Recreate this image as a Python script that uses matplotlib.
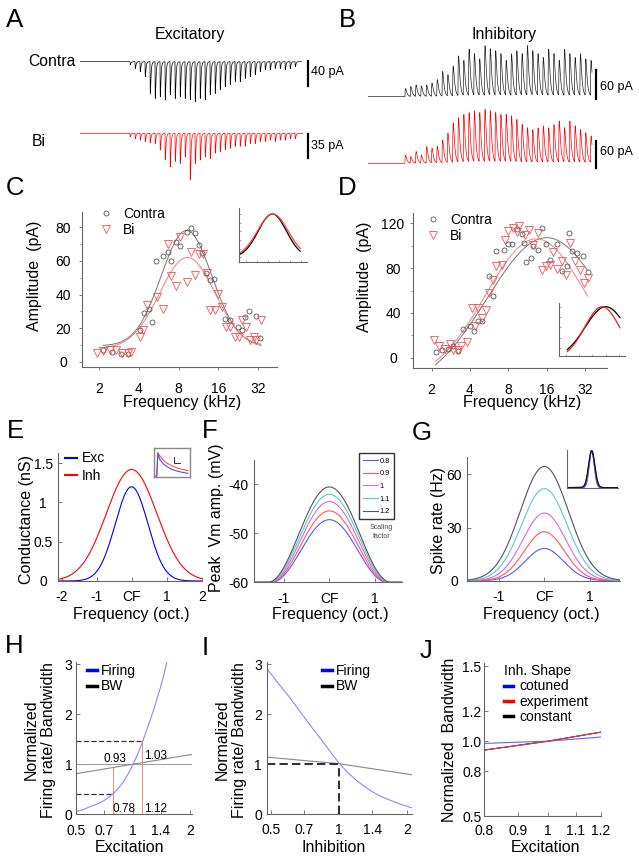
import numpy as np
import matplotlib
matplotlib.use('Agg')
import matplotlib.pyplot as plt
from matplotlib.lines import Line2D

plt.rcParams['font.family'] = ['Liberation Sans', 'DejaVu Sans']
plt.rcParams['axes.linewidth'] = 0.8

# ---------------- data ----------------
# A: excitatory traces, peak amplitude (pA) of each tone-evoked response
exc_contra_amp = [5, 11, 16, 24, 51, 59, 56, 61, 53, 59, 56, 59, 61, 64, 59, 61, 53, 51,
                  45, 40, 37, 32, 32, 27, 24, 21, 16, 13, 13, 11, 11, 13, 11, 8]
exc_bi_amp = [5, 8, 10, 12, 14, 15, 24, 39, 49, 41, 44, 34, 68, 44, 39, 34, 37, 29,
              27, 24, 22, 19, 19, 19, 15, 15, 12, 12, 10, 12, 10, 10, 8, 8]
# B: inhibitory traces
inh_contra_amp = [17, 21, 24, 22, 24, 28, 35, 52, 45, 63, 84, 74, 98, 88, 77, 105, 98, 94,
                  88, 74, 88, 94, 88, 105, 94, 88, 80, 98, 88, 74, 98, 88, 80, 88, 77, 74]
inh_bi_amp = [18, 15, 26, 18, 37, 33, 37, 51, 66, 88, 99, 106, 110, 114, 110, 117, 114, 110,
              106, 106, 103, 95, 84, 77, 73, 77, 81, 77, 84, 92, 77, 92, 81, 73, 66, 59]

# C: excitatory tuning (frequency kHz, amplitude pA)
c_contra_f = [2.15, 2.5, 2.9, 3.3, 4.08, 4.37, 4.74, 4.99, 5.36, 6.12, 6.61, 7.0, 7.6, 8.2,
              9.2, 9.9, 10.6, 11.4, 12.1, 13.0, 13.9, 14.9, 18.0, 19.5, 22.4, 24.2, 25.7,
              27.4, 31.1, 33.3]
c_contra_a = [7, 6, 5, 5, 18.8, 29.2, 31.6, 23.7, 59.7, 62.8, 65.2, 59.7, 71.1, 68.6,
              77.1, 79.4, 76.5, 69.6, 64.6, 52.8, 48.8, 49.4, 25.7, 24.7, 20.8, 18.8, 26.7,
              30.0, 27.3, 14.4]
c_bi_f = [1.94, 2.15, 2.4, 2.7, 2.96, 3.3, 3.5, 4.08, 4.3, 4.6, 5.5, 6.1, 6.6, 7.0, 7.6,
          8.2, 9.3, 9.9, 10.6, 11.4, 12.2, 13.2, 13.9, 15.0, 15.9, 17.0, 18.2, 19.5, 21.3,
          23.0, 24.4, 25.9, 27.9, 30.0, 31.1, 33.6]
c_bi_a = [5.3, 6.5, 7.3, 7.3, 5.5, 5.5, 5.9, 14.8, 18.8, 33.6, 38.5, 31.6, 70.2, 50.8, 45,
          74.1, 47.4, 65.2, 51.4, 64.2, 64.2, 52.8, 30.6, 30.6, 40.5, 32.6, 20.8, 20.8, 14.8,
          14.8, 25.1, 20.8, 12.8, 14.8, 12.8, 24.7]
# Gaussian fit parameters (baseline, amplitude, centre log2 kHz, width oct.)
c_fit_contra = (9.5, 68.5, 3.2, 0.64)
c_fit_bi = (8.0, 54.0, 3.22, 0.70)

# D: inhibitory tuning
d_contra_f = [2.16, 2.4, 2.7, 2.96, 3.2, 3.54, 4.0, 4.3, 4.6, 5.0, 5.68, 6.1, 6.47, 7.4,
              7.96, 8.6, 9.3, 10.2, 10.6, 11.1, 12.0, 12.6, 13.8, 14.8, 15.9, 17.0, 19.4,
              21.0, 23.1, 24.2, 25.4, 27.9, 31.1, 33.6]
d_contra_a = [5, 6.8, 8, 10.4, 5.9, 25.8, 28, 23.7, 32.6, 32.6, 73.2, 55.4, 95.4, 96.3,
              101.6, 101.6, 114.7, 110.5, 102.2, 85, 88.9, 99.3, 96.3, 115.6, 101.3, 87.4,
              101.6, 77, 82.1, 111, 94.8, 93.3, 90.4, 76.1]
d_bi_f = [2.1, 2.3, 2.55, 2.79, 2.96, 3.23, 3.43, 3.77, 4.12, 4.37, 4.64, 5.0, 5.4, 5.68,
          6.1, 6.47, 7.1, 7.6, 8.0, 8.7, 9.3, 9.8, 10.8, 11.7, 12.6, 13.8, 14.7, 15.8, 17.0,
          18.0, 19.4, 21.0, 22.8, 24.4, 26.6, 29.2, 31.6, 34.0]
d_bi_a = [16.3, 10.4, 8, 12.7, 7.4, 6.8, 11, 13.9, 44.4, 28.1, 44.4, 35.6, 43, 57.8, 69.6,
          82, 83, 105.2, 112.6, 115.6, 111.7, 117.6, 109.6, 114.1, 100.7, 111, 78.5, 81.5,
          83, 94.2, 79.1, 86, 74.1, 102.2, 86, 78.5, 66.7, 71.1]
d_fit_contra = (-30.0, 137.0, 4.0, 1.55)
d_fit_bi = (-20.0, 126.0, 3.73, 1.315)

# E: model conductances (peak nS, width oct.)
e_labels = ['Exc', 'Inh']
e_peak = [1.2, 1.42]
e_width = [0.466, 0.72]
e_inset_t = [0.0, 0.06, 0.09, 0.15, 0.25, 0.35, 0.5, 0.65, 0.8, 0.95]
e_inset_inh = [0.03, 0.03, 0.85, 0.72, 0.58, 0.48, 0.38, 0.31, 0.26, 0.22]
e_inset_exc = [0.03, 0.03, 0.80, 0.60, 0.45, 0.36, 0.26, 0.20, 0.16, 0.13]

# F / G: scaling factors
scale_labels = ['0.8', '0.9', '1', '1.1', '1.2']
f_peak_vm = [-47.2, -45.4, -43.5, -42.0, -40.5]
f_halfwidth = [1.27, 1.29, 1.31, 1.33, 1.35]
g_peak_rate = [18.2, 27.6, 38.2, 52.0, 64.5]
g_width = [0.42, 0.44, 0.47, 0.50, 0.53]

# H: excitation scaling
h_exc = [0.5, 0.55, 0.6, 0.65, 0.7, 0.75, 0.8, 0.85, 0.9, 0.95, 1.0, 1.05, 1.1, 1.15,
         1.2, 1.25, 1.3, 1.35, 1.4, 1.45, 1.52]
h_firing = [0.05, 0.1, 0.16, 0.21, 0.27, 0.35, 0.44, 0.55, 0.68, 0.83, 1.0, 1.17, 1.36,
            1.56, 1.76, 1.95, 2.15, 2.35, 2.55, 2.76, 3.1]
h_bw_x = [0.5, 1.0, 2.04]
h_bw = [0.81, 1.0, 1.195]

# I: inhibition scaling
i_inh = [0.483, 0.536, 0.595, 0.649, 0.707, 0.771, 0.841, 0.917, 1.0, 1.09, 1.19, 1.297,
         1.414, 1.542, 1.68, 1.866, 2.09]
i_firing = [2.9, 2.63, 2.38, 2.15, 1.92, 1.695, 1.47, 1.245, 1.02, 0.84, 0.68, 0.55,
            0.44, 0.35, 0.28, 0.2, 0.13]
i_bw_x = [0.483, 1.0, 2.09]
i_bw = [1.14, 1.01, 0.79]

# J: bandwidth vs excitation for inhibitory shapes
j_exc = [0.8, 1.0, 1.2]
j_cotuned = [0.985, 1.0, 1.027]
j_experiment = [0.94, 1.0, 1.06]
j_constant = [0.94, 1.0, 1.06]

# ---------------- figure helpers ----------------
W, H = 639, 860
fig = plt.figure(figsize=(W / 100, H / 100), dpi=100)
fig.patch.set_facecolor('white')


def add_ax(l, t, r, b):
    return fig.add_axes([l / W, 1 - b / H, (r - l) / W, (b - t) / H])


def ftext(x, y, s, **kw):
    return fig.text(x / W, 1 - y / H, s, **kw)


def fpt(x, y):
    return (x / W, 1 - y / H)


SPC = '#666666'


def style(ax, direction='in', length=3):
    for s in ('top', 'right'):
        ax.spines[s].set_visible(False)
    for s in ('left', 'bottom'):
        ax.spines[s].set_color(SPC)
        ax.spines[s].set_linewidth(0.8)
    ax.tick_params(direction=direction, length=length, width=0.6, colors=SPC,
                   labelcolor='black', labelsize=10)
    ax.set_facecolor('none')


def center_ylabels(ax, ticks, labels, pad):
    ax.set_yticks(ticks)
    ax.set_yticklabels(labels, ha='center')
    ax.tick_params(axis='y', pad=pad)


def trace(ax, amps, t_pre, t_end, sign, tau_r, tau_d, color):
    t = np.arange(0, t_end, 0.01)
    y = np.zeros_like(t)
    g = np.arange(0, 3, 0.001)
    norm = np.max(np.exp(-g / tau_d) - np.exp(-g / tau_r))
    for i, a in enumerate(amps):
        tau = t - (t_pre + i)
        m = tau > 0
        y[m] += sign * a * (np.exp(-tau[m] / tau_d) - np.exp(-tau[m] / tau_r)) / norm
    ax.plot(t, y, color=color, lw=0.5)


def bare(ax):
    ax.set_axis_off()


# ---------------- panel letters & titles ----------------
for lab, x, y in [('A', 6, 26.7), ('B', 339, 26.7), ('C', 6, 195), ('D', 338, 195),
                  ('E', 7, 438), ('F', 202, 438), ('G', 412, 440), ('H', 5, 653),
                  ('I', 202, 655), ('J', 420, 658)]:
    ftext(x, y, lab, fontsize=18.5, ha='left', va='baseline')

ftext(190, 34, 'Excitatory', fontsize=11.5, ha='center', va='center')
ftext(504.5, 35, 'Inhibitory', fontsize=11.5, ha='center', va='center')
ftext(52, 62, 'Contra', fontsize=11.3, ha='center', va='center')
ftext(38.5, 141, 'Bi', fontsize=11.3, ha='center', va='center')

# ---------------- A traces ----------------
axA1 = add_ax(80, 50, 310, 110)
trace(axA1, exc_contra_amp, 10, 44.3, -1, 0.035, 0.13, 'black')
axA1.set_xlim(0, 46)
axA1.set_ylim(-77.3, 18.7)
axA1.plot([45.5, 45.5], [1, -39], color='black', lw=1.6, clip_on=False)
bare(axA1)
ftext(311, 72, '40 pA', fontsize=9, ha='left', va='center')

axA2 = add_ax(80, 120, 310, 190)
trace(axA2, exc_bi_amp, 10, 44.6, -1, 0.035, 0.13, 'red')
axA2.set_xlim(0, 46)
axA2.set_ylim(-82.6, 19.4)
axA2.plot([45.5, 45.5], [-1, -36], color='black', lw=1.6, clip_on=False)
bare(axA2)
ftext(311, 146, '35 pA', fontsize=9, ha='left', va='center')

# ---------------- B traces ----------------
axB1 = add_ax(368.3, 40, 600, 110)
trace(axB1, inh_contra_amp, 6.9, 42.2, 1, 0.07, 0.25, '#222222')
axB1.set_xlim(0, 43.7)
axB1.set_ylim(-28, 119)
axB1.plot([43.0, 43.0], [-5, 55], color='black', lw=1.6, clip_on=False)
bare(axB1)
ftext(600, 87, '60 pA', fontsize=9, ha='left', va='center')

axB2 = add_ax(368.3, 105, 600, 180)
trace(axB2, inh_bi_amp, 6.9, 42.2, 1, 0.07, 0.25, 'red')
axB2.set_xlim(0, 43.7)
axB2.set_ylim(-37, 129.7)
axB2.plot([43.0, 43.0], [-10, 50], color='black', lw=1.6, clip_on=False)
bare(axB2)
ftext(600, 152, '60 pA', fontsize=9, ha='left', va='center')


# ---------------- C ----------------
def gfit(x, p):
    b, a, mu, s = p
    return b + a * np.exp(-(x - mu) ** 2 / (2 * s ** 2))


axC = add_ax(82, 212, 277, 367)
style(axC, 'out', 2)
axC.set_xscale('log', base=2)
fx = np.linspace(np.log2(2.15), np.log2(33.6), 200)
axC.plot(2 ** fx, gfit(fx, c_fit_contra), color='#777777', lw=0.7)
axC.plot(2 ** fx, gfit(fx, c_fit_bi), color='#f08080', lw=0.7)
axC.plot(c_contra_f, c_contra_a, 'o', mfc='none', mec='#555555', ms=3.6, mew=0.6)
axC.plot(c_bi_f, c_bi_a, 'v', mfc='none', mec='#ee5555', ms=6, mew=0.6)
axC.set_xlim(1.48, 44.6)
axC.set_ylim(-3, 89)
axC.set_xticks([2, 4, 8, 16, 32])
axC.set_xticklabels(['2', '4', '8', '16', '32'])
axC.xaxis.set_minor_locator(matplotlib.ticker.NullLocator())
axC.set_yticks([10, 30, 50, 70], minor=True)
axC.tick_params(which='minor', direction='out', length=1.5, width=0.5, colors=SPC)
center_ylabels(axC, [0, 20, 40, 60, 80], ['0', '20', '40', '60', '80'], 11.5)
axC.tick_params(axis='x', pad=8.5)
hC = [Line2D([], [], ls='none', marker='o', mfc='none', mec='#555555', ms=3.6, mew=0.6),
      Line2D([], [], ls='none', marker='v', mfc='none', mec='#ee5555', ms=6, mew=0.6)]
axC.legend(hC, ['Contra', 'Bi'], loc='upper left', bbox_to_anchor=fpt(99, 206.5),
           bbox_transform=fig.transFigure, frameon=False, fontsize=10, handlelength=1.0,
           handletextpad=0.72, labelspacing=0.2, borderpad=0, borderaxespad=0)
ftext(35, 276, 'Amplitude  (pA)', fontsize=11.5, rotation=90, ha='center', va='center')
ftext(182.5, 403, 'Frequency (kHz)', fontsize=11.5, ha='center', va='center')

# C inset
axCi = add_ax(239.3, 208.3, 306.7, 261.7)
style(axCi, 'in', 1.5)
xi = np.linspace(1.75, 4.46, 200)
cb, ca, cm, cs = c_fit_contra
rb, ra, rm, rs = c_fit_bi
axCi.plot(xi, (gfit(xi, c_fit_contra) - cb) / ca, color='black', lw=0.9)
axCi.plot(xi, (gfit(xi, c_fit_bi) - rb) / ra, color='#ff4040', lw=0.9)
axCi.set_xlim(1.7, 4.76)
axCi.set_ylim(-0.1, 1.13)
axCi.set_xticks([2, 2.5, 3, 3.5, 4, 4.5])
axCi.set_yticks([0, 0.2, 0.4, 0.6, 0.8, 1.0])
axCi.tick_params(labelbottom=False, labelleft=False, length=1.2, width=0.4)

# ---------------- D ----------------
axD = add_ax(413, 213, 607, 368)
style(axD, 'out', 2)
axD.set_xscale('log', base=2)
fxd = np.linspace(np.log2(2.15), np.log2(33.6), 200)
axD.plot(2 ** fxd, gfit(fxd, d_fit_contra), color='#777777', lw=0.7)
axD.plot(2 ** fxd, gfit(fxd, d_fit_bi), color='#f08080', lw=0.7)
axD.plot(d_contra_f, d_contra_a, 'o', mfc='none', mec='#555555', ms=3.6, mew=0.6)
axD.plot(d_bi_f, d_bi_a, 'v', mfc='none', mec='#ee5555', ms=6, mew=0.6)
axD.set_xlim(1.43, 47.7)
axD.set_ylim(-9, 129)
axD.set_xticks([2, 4, 8, 16, 32])
axD.set_xticklabels(['2', '4', '8', '16', '32'])
axD.xaxis.set_minor_locator(matplotlib.ticker.NullLocator())
axD.set_yticks([20, 60, 100], minor=True)
axD.tick_params(which='minor', direction='out', length=1.5, width=0.5, colors=SPC)
center_ylabels(axD, [0, 40, 80, 120], ['0', '40', '80', '120'], 12.4)
axD.tick_params(axis='x', pad=8.5)
axD.legend(hC, ['Contra', 'Bi'], loc='upper left', bbox_to_anchor=fpt(426.4, 212.5),
           bbox_transform=fig.transFigure, frameon=False, fontsize=10, handlelength=1.0,
           handletextpad=0.72, labelspacing=0.2, borderpad=0, borderaxespad=0)
ftext(365, 276.7, 'Amplitude  (pA)', fontsize=11.5, rotation=90, ha='center', va='center')
ftext(522.3, 403, 'Frequency (kHz)', fontsize=11.5, ha='center', va='center')

# D inset
axDi = add_ax(559.3, 303.3, 625, 356)
style(axDi, 'in', 1.5)
xd = np.linspace(np.log2(2.15), np.log2(33.6), 200)
db, da, dm, ds = d_fit_contra
eb, ea, em, es = d_fit_bi
axDi.plot(xd, (gfit(xd, d_fit_contra) - db) / da, color='black', lw=0.9)
axDi.plot(xd, (gfit(xd, d_fit_bi) - eb) / ea, color='#ee2020', lw=0.9)
axDi.set_xlim(0.5, 5.45)
axDi.set_ylim(0.05, 1.066)
axDi.set_xticks([1, 2, 3, 4, 5])
axDi.set_yticks([0.2, 0.4, 0.6, 0.8, 1.0])
axDi.tick_params(labelbottom=False, labelleft=False, length=1.2, width=0.4)

# ---------------- E ----------------
axE = add_ax(58, 453, 201.7, 581)
style(axE, 'in', 3)
xe = np.linspace(-2.1, 2.0, 300)
e_colors = ['#0000ff', '#ff0000']
for lab, pk, wd, c in zip(e_labels, e_peak, e_width, e_colors):
    axE.plot(xe, pk * np.exp(-xe ** 2 / (2 * wd ** 2)), color=c, lw=0.8, label=lab)
axE.set_xlim(-2.1, 2.0)
axE.set_ylim(0, 1.63)
axE.set_xticks([-2, -1, 0, 1, 2])
axE.set_xticklabels(['-2', '-1', 'CF', '1', '2'])
center_ylabels(axE, [0, 0.5, 1, 1.5], ['0', '0.5', '1', '1.5'], 10.6)
axE.tick_params(axis='x', pad=6.5)
hE = [Line2D([], [], color=c, lw=1.5) for c in e_colors]
axE.legend(hE, e_labels, loc='upper left', bbox_to_anchor=fpt(65, 451.5),
           bbox_transform=fig.transFigure, frameon=False, fontsize=10, handlelength=0.86,
           handletextpad=0.34, labelspacing=0.25, borderpad=0, borderaxespad=0)
ftext(26, 520, 'Conductance (nS)', fontsize=11.5, rotation=90, ha='center', va='center')
ftext(131, 615, 'Frequency (oct.)', fontsize=11.5, ha='center', va='center')

# E inset
axEi = add_ax(154, 448, 189.5, 477)
axEi.plot(e_inset_t, e_inset_inh, color='#ff5050', lw=0.8)
axEi.plot(e_inset_t, e_inset_exc, color='#5050ff', lw=0.8)
axEi.plot([0.55, 0.55, 0.72], [0.68, 0.5, 0.5], color='#333333', lw=0.7)
axEi.set_xlim(-0.02, 1.0)
axEi.set_ylim(0, 1.0)
axEi.set_xticks([])
axEi.set_yticks([])
for s in axEi.spines.values():
    s.set_color('#888888')
    s.set_linewidth(1.0)

# ---------------- F ----------------
fg_colors = ['#5a5aff', '#ff5a5a', '#e066e0', '#55cccc', '#555555']
axF = add_ax(254.3, 460, 401.7, 582.3)
style(axF, 'in', 3)
xf = np.linspace(-1.65, 1.59, 400)
for lab, pk, hw, c in zip(scale_labels, f_peak_vm, f_halfwidth, fg_colors):
    shape = np.where(np.abs(xf) < hw, np.cos(np.pi * xf / (2 * hw)) ** 2, 0.0)
    axF.plot(xf, -60 + (pk + 60) * shape, color=c, lw=0.8, label=lab)
axF.set_xlim(-1.65, 1.59)
axF.set_ylim(-60, -35)
axF.set_xticks([-1, 0, 1])
axF.set_xticklabels(['-1', 'CF', '1'])
center_ylabels(axF, [-60, -50, -40], ['-60', '-50', '-40'], 11.5)
axF.tick_params(axis='x', pad=6.7)
hF = [Line2D([], [], color=c, lw=0.8) for c in fg_colors]
legF = axF.legend(hF, scale_labels, loc='upper left', bbox_to_anchor=fpt(359.3, 453.3),
                  bbox_transform=fig.transFigure, frameon=True, fancybox=False,
                  edgecolor='black', fontsize=5.3, handlelength=2.0, handletextpad=0.2,
                  labelspacing=0.75, borderpad=0.55, borderaxespad=0)
legF.get_frame().set_linewidth(1.0)
ftext(381.7, 532, 'Scaling\nfactor', fontsize=5, color='#444444', ha='center',
      va='center', linespacing=1.3)
ftext(216, 518, 'Peak  Vm amp. (mV)', fontsize=11.5, rotation=90, ha='center', va='center')
ftext(330, 615, 'Frequency (oct.)', fontsize=11.5, ha='center', va='center')

# ---------------- G ----------------
axG = add_ax(467.3, 456.7, 620, 580.7)
style(axG, 'in', 3)
xg = np.linspace(-1.69, 1.66, 400)
for lab, pk, wd, c in zip(scale_labels, g_peak_rate, g_width, fg_colors):
    axG.plot(xg, pk * np.exp(-xg ** 2 / (2 * wd ** 2)), color=c, lw=0.8)
axG.set_xlim(-1.69, 1.66)
axG.set_ylim(0, 70)
axG.set_xticks([-1, 0, 1])
axG.set_xticklabels(['-1', 'CF', '1'])
center_ylabels(axG, [0, 30, 60], ['0', '30', '60'], 9.6)
axG.tick_params(axis='x', pad=6.7)
ftext(438, 521, 'Spike rate (Hz)', fontsize=11.5, rotation=90, ha='center', va='center')
ftext(541.7, 615, 'Frequency (oct.)', fontsize=11.5, ha='center', va='center')

# G inset
axGi = add_ax(566.7, 450, 618.3, 488.3)
style(axGi, 'in', 1.2)
xgi = np.linspace(-2.5, 2.66, 300)
gi_colors = ['#5a5aff', '#7a4ad0', '#9050c0', '#6040a0', '#111111']
for wd, c in zip(g_width, gi_colors):
    axGi.plot(xgi, np.exp(-xgi ** 2 / (2 * (wd * 0.6) ** 2)), color=c, lw=0.8)
axGi.set_xlim(-2.5, 2.66)
axGi.set_ylim(-0.02, 1.02)
axGi.set_xticks([])
axGi.set_yticks([])

# ---------------- H ----------------
axH = add_ax(76, 662, 191.7, 814.3)
style(axH, 'in', 3)
axH.set_xscale('log', base=2)
axH.axhline(1.0, color='#999999', lw=0.7)
axH.plot([0.5, 0.78], [0.41, 0.41], color='#333333', lw=0.9, ls=(0, (4, 2)))
axH.plot([0.5, 1.12], [1.47, 1.47], color='#333333', lw=0.9, ls=(0, (4, 2)))
axH.plot([0.78, 0.78], [0, 0.93], color='#f09070', lw=0.7)
axH.plot([1.12, 1.12], [0, 1.47], color='#f09070', lw=0.7)
axH.plot(h_bw_x, h_bw, color='#888888', lw=0.8, label='BW')
axH.plot(h_exc, h_firing, color='#8c8cf0', lw=0.8, label='Firing')
axH.set_xlim(0.5, 2.04)
axH.set_ylim(0, 3.04)
axH.set_xticks([0.5, 0.7, 1, 1.4, 2])
axH.set_xticklabels(['0.5', '0.7', '1', '1.4', '2'])
axH.xaxis.set_minor_locator(matplotlib.ticker.NullLocator())
center_ylabels(axH, [0, 1, 2, 3], ['0', '1', '2', '3'], 5.5)
axH.tick_params(axis='x', pad=7)
for s, x, y in [('0.93', 0.8, 1.1), ('1.03', 1.31, 1.17), ('0.78', 0.9, 0.1), ('1.12', 1.32, 0.1)]:
    axH.text(x, y, s, fontsize=8.5, ha='center', va='center')
hH = [Line2D([], [], color='#0000ff', lw=2.5), Line2D([], [], color='black', lw=2.5)]
axH.legend(hH, ['Firing', 'BW'], loc='upper left', bbox_to_anchor=fpt(87, 664),
           bbox_transform=fig.transFigure, frameon=False, fontsize=10, handlelength=0.72,
           handletextpad=0.29, labelspacing=0.1, borderpad=0, borderaxespad=0)
ftext(40, 740, 'Normalized\nFiring rate/ Bandwidth', fontsize=11.5, rotation=90,
      ha='center', va='center', multialignment='center', linespacing=1.2)
ftext(129, 847, 'Excitation', fontsize=11.5, ha='center', va='center')

# ---------------- I ----------------
axI = add_ax(267.3, 662, 411.7, 814.3)
style(axI, 'in', 3)
axI.set_xscale('log', base=2)
axI.plot(i_bw_x, i_bw, color='#888888', lw=0.8)
axI.plot(i_inh, i_firing, color='#8c8cf0', lw=0.8)
axI.plot([0.483, 1.0], [1.01, 1.01], color='#333333', lw=1.5, ls=(0, (4, 2)))
axI.plot([1.0, 1.0], [0, 1.01], color='#333333', lw=1.5, ls=(0, (4, 2)))
axI.set_xlim(0.483, 2.09)
axI.set_ylim(0, 3.04)
axI.set_xticks([0.5, 0.7, 1, 1.4, 2])
axI.set_xticklabels(['0.5', '0.7', '1', '1.4', '2'])
axI.xaxis.set_minor_locator(matplotlib.ticker.NullLocator())
center_ylabels(axI, [0, 1, 2, 3], ['0', '1', '2', '3'], 6.5)
axI.tick_params(axis='x', pad=6)
axI.legend(hH, ['Firing', 'BW'], loc='upper left', bbox_to_anchor=fpt(322, 664),
           bbox_transform=fig.transFigure, frameon=False, fontsize=10, handlelength=0.72,
           handletextpad=0.29, labelspacing=0.1, borderpad=0, borderaxespad=0)
ftext(231, 740, 'Normalized\nFiring rate/ Bandwidth', fontsize=11.5, rotation=90,
      ha='center', va='center', multialignment='center', linespacing=1.2)
ftext(333.3, 847, 'Inhibition', fontsize=11.5, ha='center', va='center')

# ---------------- J ----------------
axJ = add_ax(484, 663.3, 600.7, 816)
style(axJ, 'in', 3)
axJ.set_xscale('log')
axJ.plot(j_exc, j_constant, color='black', lw=0.8)
axJ.plot(j_exc, j_cotuned, color='#6060ff', lw=0.8)
axJ.plot(j_exc, j_experiment, color='#e04040', lw=0.8)
axJ.set_xlim(0.8, 1.2)
axJ.set_ylim(0.5, 1.52)
axJ.set_xticks([0.8, 0.9, 1, 1.1, 1.2])
axJ.set_xticklabels(['0.8', '0.9', '1', '1.1', '1.2'])
axJ.xaxis.set_minor_locator(matplotlib.ticker.NullLocator())
center_ylabels(axJ, [0.5, 0.8, 1.0, 1.2, 1.5], ['0.5', '0.8', '1.0', '1.2', '1.5'], 8.9)
axJ.tick_params(axis='x', pad=5.8)
hJ = [Line2D([], [], color='#0000ff', lw=2.5), Line2D([], [], color='#ff0000', lw=2.5),
      Line2D([], [], color='black', lw=2.5)]
legJ = axJ.legend(hJ, ['cotuned', 'experiment', 'constant'], title='Inh. Shape',
                  title_fontsize=10, alignment='left', loc='upper left',
                  bbox_to_anchor=fpt(504, 664), bbox_transform=fig.transFigure,
                  frameon=False, fontsize=10, handlelength=0.65, handletextpad=0.43,
                  labelspacing=0.1, borderpad=0, borderaxespad=0)
ftext(449, 740, 'Normalized  Bandwidth', fontsize=11.5, rotation=90, ha='center', va='center')
ftext(545.8, 847, 'Excitation', fontsize=11.5, ha='center', va='center')

fig.savefig('out.png', dpi=100)
